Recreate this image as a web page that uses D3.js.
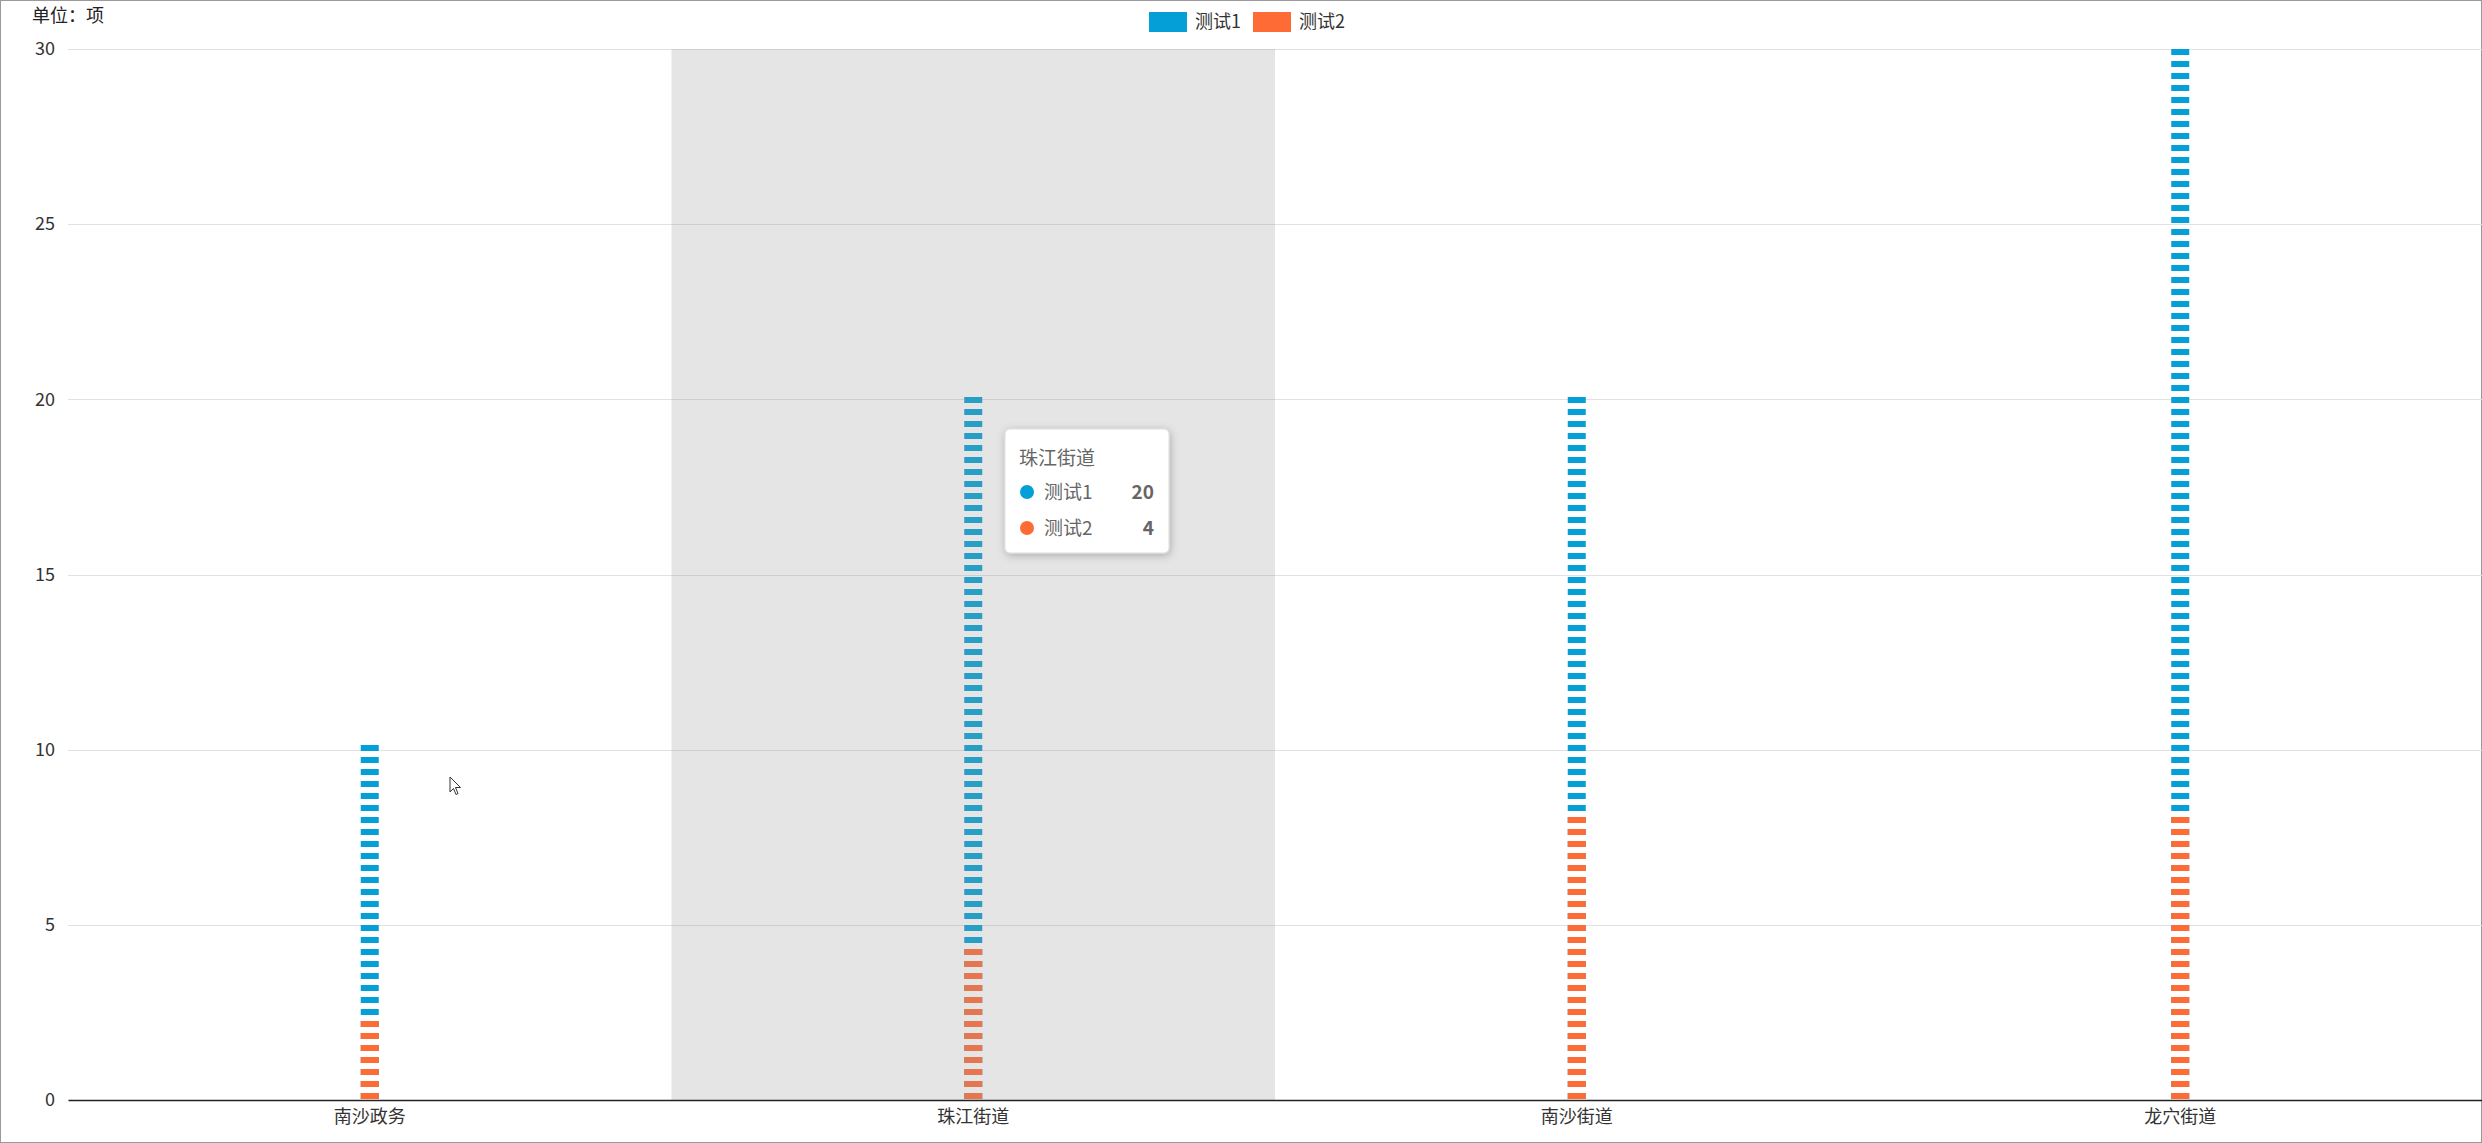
<!DOCTYPE html>
<html><head><meta charset="utf-8">
<script src="https://cdn.jsdelivr.net/npm/d3@7/dist/d3.min.js"></script>
<style>
html,body{margin:0;padding:0;background:#fff;overflow:hidden;}
svg{display:block;font-family:"Noto Sans CJK SC","Microsoft YaHei",sans-serif;}
</style></head>
<body>
<svg id="c" width="2482" height="1143"></svg>
<script>
const categories = ["南沙政务", "珠江街道", "南沙街道", "龙穴街道"];
const series1Name = "测试1";
const series2Name = "测试2";
const series1 = [10, 20, 20, 30];
const series2 = [2, 4, 8, 8];
const yTicks = [0, 5, 10, 15, 20, 25, 30];
const unitLabel = "单位：项";
const highlightIndex = 1;

const W = 2482, H = 1143;
const M = {left: 68, right: 0, top: 49, bottom: 43};
const C1 = "#039fd6", C2 = "#ff6b35";
const svg = d3.select("#c");

const x = d3.scaleBand().domain(categories).range([M.left, W - M.right]).padding(0);
const y = d3.scaleLinear().domain([0, 30]).range([H - M.bottom, M.top]);

// border
svg.append("rect").attr("x",0.5).attr("y",0.5).attr("width",W-1).attr("height",H-1)
  .attr("fill","none").attr("stroke","#9a9a9a");

// grid
const grid = svg.append("g");
grid.selectAll("line").data(yTicks.filter(d=>d>0)).join("line")
  .attr("x1", M.left).attr("x2", W - M.right)
  .attr("y1", d=>Math.round(y(d))+0.5).attr("y2", d=>Math.round(y(d))+0.5)
  .attr("stroke","#e0e0e6").attr("stroke-width",1);

// y axis labels
const yAxis = d3.axisLeft(y).tickValues(yTicks).tickSize(0).tickPadding(13);
const ya = svg.append("g").attr("transform",`translate(${M.left},0)`).call(yAxis);
ya.select(".domain").remove();
ya.selectAll("text").attr("font-size",18).attr("fill","#333").attr("font-family","'Noto Sans CJK SC',sans-serif");

// unit label
svg.append("text").attr("x",32).attr("y",16).attr("dy","0.35em").attr("font-size",18).attr("fill","#222").text(unitLabel);

// bars (dashed pictorial)
const dashH = 6, period = 12, dashW = 18;
const clip = svg.append("clipPath").attr("id","plotclip").append("rect")
  .attr("x", M.left).attr("y", M.top - 1).attr("width", W - M.left).attr("height", y(0) - M.top + 1);
const barsG = svg.append("g").attr("clip-path","url(#plotclip)");
function dashes(vals, color, cls){
  const data = [];
  vals.forEach((v,i)=>{
    const len = y(0) - y(v);
    const n = Math.round(len/period) + 1;
    for(let k=0;k<n;k++) data.push({cat:categories[i], k});
  });
  barsG.selectAll("rect."+cls).data(data).join("rect").attr("class",cls)
    .attr("x", d=>x(d.cat) + x.bandwidth()/2 - dashW/2)
    .attr("y", d=>y(0) - 7 - d.k*period)
    .attr("width", dashW).attr("height", dashH)
    .attr("fill", color);
}
dashes(series1, C1, "s1");
dashes(series2, C2, "s2");

// hover shadow over highlighted category
svg.append("rect").attr("x", x(categories[highlightIndex])).attr("y", M.top)
  .attr("width", x.bandwidth()).attr("height", y(0) - M.top)
  .attr("fill","rgba(150,150,150,0.25)");

// x axis
const xAxis = d3.axisBottom(x).tickSize(0).tickPadding(10);
const xa = svg.append("g").attr("transform",`translate(0,${y(0)})`).call(xAxis);
xa.select(".domain").attr("stroke","#222").attr("stroke-width",1.5);
xa.selectAll("text").attr("font-size",18).attr("fill","#333").attr("font-family","'Noto Sans CJK SC',sans-serif");

// legend
const lg = svg.append("g");
const legendItems = [{name:series1Name,color:C1,x:1149},{name:series2Name,color:C2,x:1253}];
legendItems.forEach(it=>{
  lg.append("rect").attr("x",it.x).attr("y",12).attr("width",38).attr("height",20).attr("fill",it.color);
  lg.append("text").attr("x",it.x+46).attr("y",22).attr("dy","0.35em").attr("font-size",18).attr("fill","#333").text(it.name);
});

// tooltip
const defs = svg.append("defs");
const f = defs.append("filter").attr("id","sh").attr("x","-20%").attr("y","-20%").attr("width","140%").attr("height","140%");
f.append("feDropShadow").attr("dx",1).attr("dy",2).attr("stdDeviation",4).attr("flood-color","#000").attr("flood-opacity",0.25);
const tt = svg.append("g").attr("transform","translate(1005,429)");
tt.append("rect").attr("width",164).attr("height",124).attr("rx",5).attr("fill","#fff")
  .attr("stroke","#ddd").attr("filter","url(#sh)");
tt.append("text").attr("x",14).attr("y",29).attr("dy","0.35em").attr("font-size",19).attr("fill","#666").text(categories[highlightIndex]);
const rows = [{name:series1Name,color:C1,v:series1[highlightIndex]},{name:series2Name,color:C2,v:series2[highlightIndex]}];
rows.forEach((r,i)=>{
  const cy = 63 + i*36;
  tt.append("circle").attr("cx",22).attr("cy",cy).attr("r",7).attr("fill",r.color);
  tt.append("text").attr("x",39).attr("y",cy).attr("dy","0.35em").attr("font-size",19).attr("fill","#666").text(r.name);
  tt.append("text").attr("x",149).attr("y",cy).attr("dy","0.35em").attr("text-anchor","end").attr("font-size",19)
    .attr("font-weight","bold").attr("fill","#666").text(r.v);
});

// mouse cursor
svg.append("path").attr("d","M450,777 l0,15 l3.5,-3.5 l2.5,6 l2,-1 l-2.5,-6 l5,0 z")
  .attr("fill","#fff").attr("stroke","#333").attr("stroke-width",1);
</script>
</body></html>
